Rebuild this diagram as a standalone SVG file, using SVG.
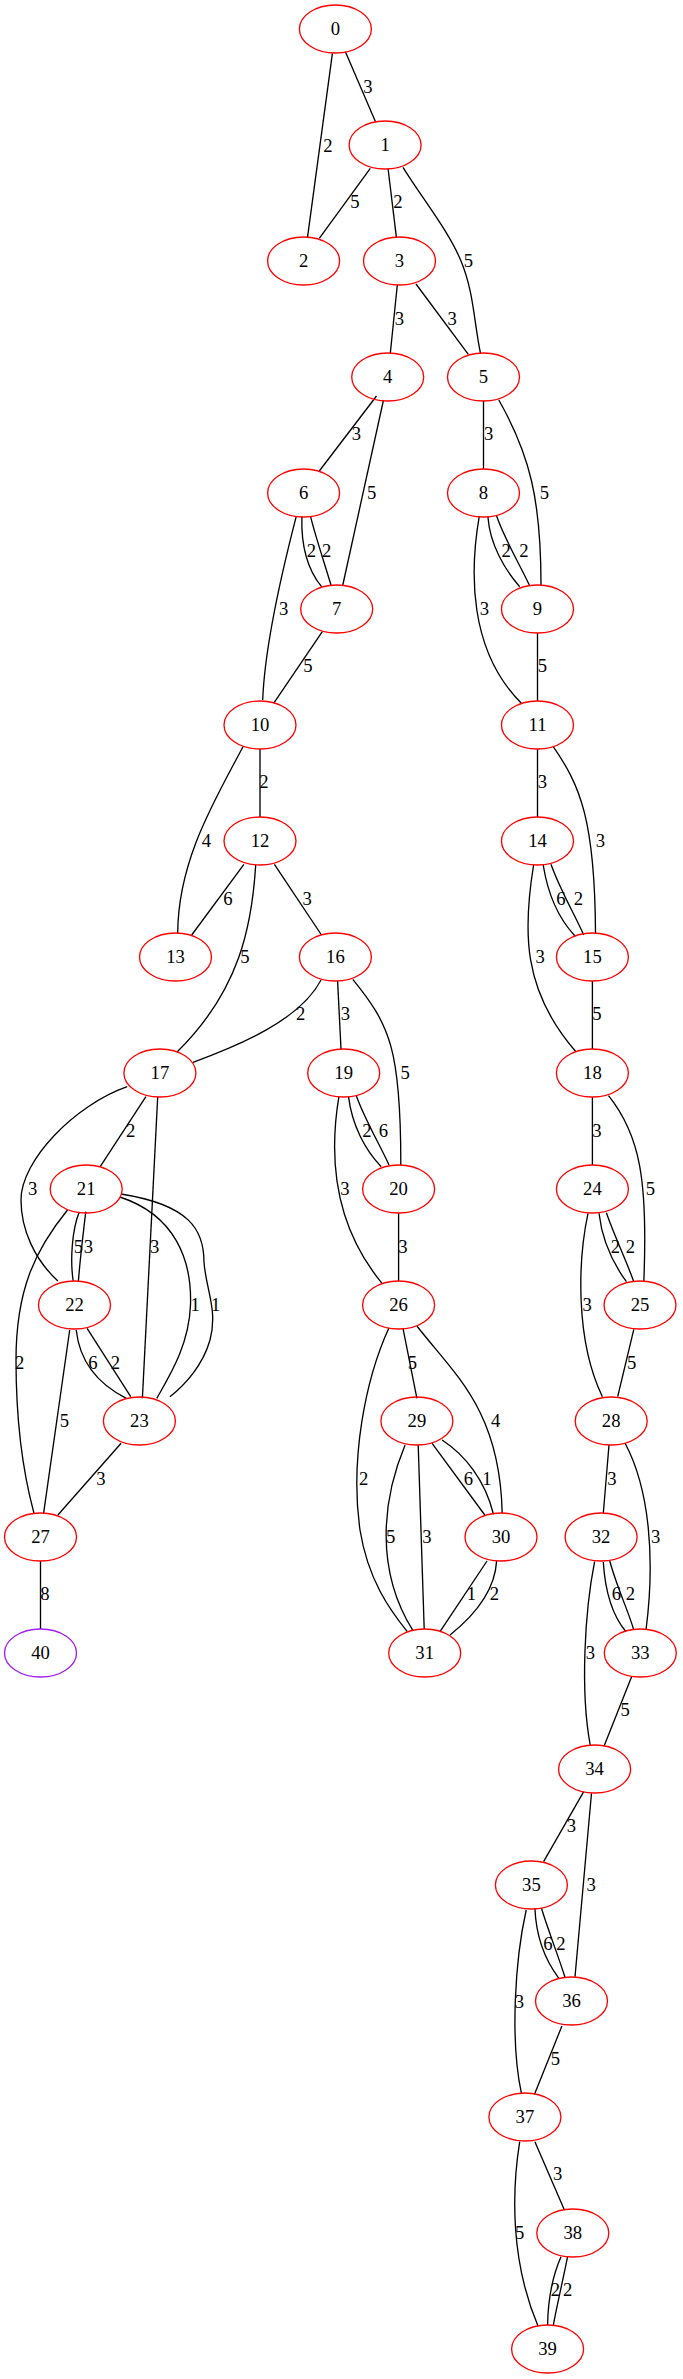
<svg xmlns="http://www.w3.org/2000/svg" width="683" height="2379" viewBox="0 0 683 2379">
<style>
.n ellipse{fill:none;stroke:#ff0000;stroke-width:1.33}
.n.p ellipse{stroke:#a020f0}
text{font-family:"Liberation Serif","Times New Roman",serif;font-size:18.67px;fill:#000;text-anchor:middle}
#edges path{fill:none;stroke:#000;stroke-width:1.33}
</style>
<rect width="683" height="2379" fill="#fff"/>
<g id="edges">
<path d="M345.4,51.7 L375.5,121.7"/>
<path d="M332.4,53.3 L307.5,237.3"/>
<path d="M370.3,168.3 L319.3,238.3"/>
<path d="M388.1,169 L396.4,237.3"/>
<path d="M403,167.3 C422.3,198.5 448.1,230 461,261 C473.9,292 474,322.5 480.5,353.3"/>
<path d="M397.3,285 L390.3,353.3"/>
<path d="M416,284 L468.3,354.3"/>
<path d="M376.5,396 L319.3,471"/>
<path d="M383.5,400 L342.8,585"/>
<path d="M483.5,400.7 L483.5,469"/>
<path d="M498.8,400 C530,455 541,500 541,585"/>
<path d="M301.9,516.7 C301,545 308,570 321.5,586.7"/>
<path d="M310.6,516.7 C315,535 325,565 331,585"/>
<path d="M296.2,516.7 C285,560 265,640 262.7,700"/>
<path d="M322.3,631.7 L273.6,703.3"/>
<path d="M487.9,516.7 C490,545 505,570 519.7,586.7"/>
<path d="M496.6,516 C505,540 520,565 529.3,585"/>
<path d="M479.2,516.7 C470,570 468,650 521.4,703.3"/>
<path d="M537.5,633 L537.5,701"/>
<path d="M260,749 L260,817"/>
<path d="M243,746.7 C215,800 178,860 177.7,933.3"/>
<path d="M537.5,749 L537.5,817"/>
<path d="M553.2,746.7 C580,785 595,820 595.5,933.3"/>
<path d="M243.9,864.3 L191.7,935"/>
<path d="M274.4,864.3 L321.5,935"/>
<path d="M255.7,865 C252,925 240,990 177.3,1051.7"/>
<path d="M543.2,865 C548,895 560,920 575,936"/>
<path d="M551,864.3 C560,890 575,915 583.7,935"/>
<path d="M533.6,865 C523,930 522,990 575.9,1051.7"/>
<path d="M592.4,981 L592.4,1049"/>
<path d="M321,980 C300,1020 240,1045 193,1062.3"/>
<path d="M337.6,981 L341,1049.3"/>
<path d="M352.8,979.3 C390,1025 401,1050 400.8,1165"/>
<path d="M145.9,1096.7 L100.2,1166.7"/>
<path d="M127.2,1086.7 C75,1105 21,1160 21,1200 C21,1230 35,1260 57.9,1281"/>
<path d="M157.7,1096.7 L142.4,1398.3"/>
<path d="M348.5,1096.7 C352,1125 365,1150 381.2,1166.7"/>
<path d="M356.3,1095.7 C365,1120 380,1145 389,1165"/>
<path d="M338.9,1096.7 C330,1150 330,1220 382,1283.3"/>
<path d="M592.4,1097 L592.4,1165"/>
<path d="M608.5,1095.7 C640,1135 648,1180 643.8,1281.7"/>
<path d="M398.6,1213 L398.6,1281"/>
<path d="M79.3,1211.7 C72,1230 70,1260 73.2,1281"/>
<path d="M85.8,1211.7 C83,1235 80,1260 78.4,1281"/>
<path d="M119.8,1197 C175,1215 192,1260 190.5,1305 C189,1345 170,1375 156.8,1398.3"/>
<path d="M121,1194 C190,1205 204,1230 204,1262 C206,1290 218,1310 210,1340 C203,1365 185,1385 169.9,1396.7"/>
<path d="M67.5,1210 C35,1250 16,1290 16,1360 C16,1430 25,1480 34,1513.3"/>
<path d="M599,1213.3 C602,1240 612,1262 626.4,1281.7"/>
<path d="M606.4,1212.7 C614,1235 626,1260 633.8,1281.7"/>
<path d="M588,1213.3 C578,1260 575,1340 602.4,1396.7"/>
<path d="M76.2,1330 C80,1365 100,1385 126.3,1398.3"/>
<path d="M87.1,1328.3 L130.7,1396.7"/>
<path d="M69.7,1330 L43.6,1513.3"/>
<path d="M403,1328.3 L416.9,1398.3"/>
<path d="M389,1327.7 C365,1380 350,1460 360,1530 C368,1580 390,1610 407.3,1631.7"/>
<path d="M416.9,1326 C455,1375 500,1410 502.2,1513.3"/>
<path d="M633.8,1329.3 L617.7,1396.7"/>
<path d="M121.1,1443.3 L57.9,1515"/>
<path d="M40.5,1561 L40.5,1629"/>
<path d="M432.1,1443.3 L484.8,1515"/>
<path d="M442.1,1440 C465,1455 485,1480 493.5,1514.3"/>
<path d="M405.1,1445 C382,1500 375,1570 413,1630.7"/>
<path d="M418.2,1444.7 L424.2,1629"/>
<path d="M609,1445 L603.3,1513.3"/>
<path d="M625.1,1443.3 C650,1490 655,1560 646,1630"/>
<path d="M487,1561 L440,1631.7"/>
<path d="M496.6,1561 C495,1590 475,1615 450,1635"/>
<path d="M603.3,1561.7 C605,1590 612,1615 626,1631.7"/>
<path d="M609.8,1561 C616,1585 628,1610 633.8,1630"/>
<path d="M594.6,1561.7 C585,1610 580,1690 590.2,1745"/>
<path d="M631.6,1676.7 L604.2,1745.7"/>
<path d="M583.7,1791.7 L543.6,1861.7"/>
<path d="M591.5,1793.3 L575,1976.7"/>
<path d="M534.9,1908.3 C536,1935 545,1960 558.9,1978.3"/>
<path d="M541.5,1908.3 C548,1930 558,1955 565,1977.3"/>
<path d="M526.2,1910 C515,1960 510,2040 521.4,2093.3"/>
<path d="M561.9,2026 L534.5,2094.3"/>
<path d="M534.9,2141.7 L564.1,2209.3"/>
<path d="M519.7,2141.7 C512,2190 510,2260 538,2326"/>
<path d="M561,2256.7 C553,2275 548,2300 547.6,2325"/>
<path d="M567.6,2256.7 C563,2280 557,2305 553.2,2326"/>
</g>
<g id="edge-labels">
<text x="368" y="93">3</text>
<text x="328" y="152">2</text>
<text x="355" y="208">5</text>
<text x="398" y="208">2</text>
<text x="468.3" y="267">5</text>
<text x="399.5" y="324.5">3</text>
<text x="452.2" y="324.5">3</text>
<text x="356.3" y="439.5">3</text>
<text x="371.6" y="498.5">5</text>
<text x="488.7" y="439.5">3</text>
<text x="544.5" y="498.5">5</text>
<text x="311.5" y="557">2</text>
<text x="326.7" y="557">2</text>
<text x="283.6" y="615">3</text>
<text x="506.2" y="557">2</text>
<text x="524" y="557">2</text>
<text x="484.4" y="615">3</text>
<text x="308" y="672">5</text>
<text x="542.3" y="672">5</text>
<text x="264" y="788">2</text>
<text x="206.5" y="847">4</text>
<text x="542.3" y="788">3</text>
<text x="600.3" y="847">3</text>
<text x="227.8" y="905">6</text>
<text x="307.1" y="905">3</text>
<text x="244.8" y="963">5</text>
<text x="561" y="905">6</text>
<text x="578.5" y="905">2</text>
<text x="540.1" y="963">3</text>
<text x="596.8" y="1020">5</text>
<text x="300.6" y="1020">2</text>
<text x="345.4" y="1020">3</text>
<text x="405.1" y="1078.5">5</text>
<text x="130.7" y="1137">2</text>
<text x="32.7" y="1194.5">3</text>
<text x="154.6" y="1253">3</text>
<text x="366.8" y="1137">2</text>
<text x="383.3" y="1137">6</text>
<text x="345" y="1194.5">3</text>
<text x="596.8" y="1137">3</text>
<text x="650.4" y="1194.5">5</text>
<text x="403" y="1253">3</text>
<text x="78.4" y="1253">5</text>
<text x="88.4" y="1253">3</text>
<text x="195.2" y="1311">1</text>
<text x="215.6" y="1311">1</text>
<text x="19.6" y="1369">2</text>
<text x="615.5" y="1253">2</text>
<text x="630.3" y="1253">2</text>
<text x="587.2" y="1311">3</text>
<text x="92.8" y="1369">6</text>
<text x="115.4" y="1369">2</text>
<text x="64.5" y="1427">5</text>
<text x="412.5" y="1369">5</text>
<text x="363.7" y="1485">2</text>
<text x="495.7" y="1427">4</text>
<text x="631.6" y="1369">5</text>
<text x="101" y="1485">3</text>
<text x="44.9" y="1599.5">8</text>
<text x="468.3" y="1485">6</text>
<text x="487" y="1485">1</text>
<text x="390.7" y="1543">5</text>
<text x="426.9" y="1543">3</text>
<text x="612" y="1485">3</text>
<text x="655.6" y="1543">3</text>
<text x="471.3" y="1599.5">1</text>
<text x="494.4" y="1599.5">2</text>
<text x="616.4" y="1599.5">6</text>
<text x="630.3" y="1599.5">2</text>
<text x="590.5" y="1659">3</text>
<text x="625.1" y="1716">5</text>
<text x="571.5" y="1832">3</text>
<text x="591.1" y="1891">3</text>
<text x="548" y="1949.5">6</text>
<text x="561" y="1949.5">2</text>
<text x="519.5" y="2008">3</text>
<text x="555.4" y="2064.5">5</text>
<text x="557.6" y="2180">3</text>
<text x="519.7" y="2239">5</text>
<text x="555.4" y="2296">2</text>
<text x="567.6" y="2296">2</text>
</g>
<g id="node0" class="n"><ellipse cx="335.4" cy="29" rx="36" ry="24"/><text x="335.4" y="35">0</text></g>
<g id="node1" class="n"><ellipse cx="385.1" cy="145" rx="36" ry="24"/><text x="385.1" y="151">1</text></g>
<g id="node2" class="n"><ellipse cx="303.6" cy="261" rx="36" ry="24"/><text x="303.6" y="267">2</text></g>
<g id="node3" class="n"><ellipse cx="399.5" cy="261" rx="36" ry="24"/><text x="399.5" y="267">3</text></g>
<g id="node4" class="n"><ellipse cx="387.7" cy="377" rx="36" ry="24"/><text x="387.7" y="383">4</text></g>
<g id="node5" class="n"><ellipse cx="483.5" cy="377" rx="36" ry="24"/><text x="483.5" y="383">5</text></g>
<g id="node6" class="n"><ellipse cx="303.6" cy="493" rx="36" ry="24"/><text x="303.6" y="499">6</text></g>
<g id="node8" class="n"><ellipse cx="483.5" cy="493" rx="36" ry="24"/><text x="483.5" y="499">8</text></g>
<g id="node7" class="n"><ellipse cx="336.7" cy="609" rx="36" ry="24"/><text x="336.7" y="615">7</text></g>
<g id="node9" class="n"><ellipse cx="537.5" cy="609" rx="36" ry="24"/><text x="537.5" y="615">9</text></g>
<g id="node10" class="n"><ellipse cx="260" cy="725" rx="36" ry="24"/><text x="260" y="731">10</text></g>
<g id="node11" class="n"><ellipse cx="537.5" cy="725" rx="36" ry="24"/><text x="537.5" y="731">11</text></g>
<g id="node12" class="n"><ellipse cx="260" cy="841" rx="36" ry="24"/><text x="260" y="847">12</text></g>
<g id="node14" class="n"><ellipse cx="537.5" cy="841" rx="36" ry="24"/><text x="537.5" y="847">14</text></g>
<g id="node13" class="n"><ellipse cx="175.5" cy="957" rx="36" ry="24"/><text x="175.5" y="963">13</text></g>
<g id="node16" class="n"><ellipse cx="335.4" cy="957" rx="36" ry="24"/><text x="335.4" y="963">16</text></g>
<g id="node15" class="n"><ellipse cx="592.4" cy="957" rx="36" ry="24"/><text x="592.4" y="963">15</text></g>
<g id="node17" class="n"><ellipse cx="159.9" cy="1073" rx="36" ry="24"/><text x="159.9" y="1079">17</text></g>
<g id="node19" class="n"><ellipse cx="343.7" cy="1073" rx="36" ry="24"/><text x="343.7" y="1079">19</text></g>
<g id="node18" class="n"><ellipse cx="592.4" cy="1073" rx="36" ry="24"/><text x="592.4" y="1079">18</text></g>
<g id="node21" class="n"><ellipse cx="86.2" cy="1189" rx="36" ry="24"/><text x="86.2" y="1195">21</text></g>
<g id="node20" class="n"><ellipse cx="398.6" cy="1189" rx="36" ry="24"/><text x="398.6" y="1195">20</text></g>
<g id="node24" class="n"><ellipse cx="592.4" cy="1189" rx="36" ry="24"/><text x="592.4" y="1195">24</text></g>
<g id="node22" class="n"><ellipse cx="74.5" cy="1305" rx="36" ry="24"/><text x="74.5" y="1311">22</text></g>
<g id="node26" class="n"><ellipse cx="398.6" cy="1305" rx="36" ry="24"/><text x="398.6" y="1311">26</text></g>
<g id="node25" class="n"><ellipse cx="640" cy="1305" rx="36" ry="24"/><text x="640" y="1311">25</text></g>
<g id="node23" class="n"><ellipse cx="139.4" cy="1421" rx="36" ry="24"/><text x="139.4" y="1427">23</text></g>
<g id="node29" class="n"><ellipse cx="416.9" cy="1421" rx="36" ry="24"/><text x="416.9" y="1427">29</text></g>
<g id="node28" class="n"><ellipse cx="611.2" cy="1421" rx="36" ry="24"/><text x="611.2" y="1427">28</text></g>
<g id="node27" class="n"><ellipse cx="40.5" cy="1537" rx="36" ry="24"/><text x="40.5" y="1543">27</text></g>
<g id="node30" class="n"><ellipse cx="501" cy="1537" rx="36" ry="24"/><text x="501" y="1543">30</text></g>
<g id="node32" class="n"><ellipse cx="601.1" cy="1537" rx="36" ry="24"/><text x="601.1" y="1543">32</text></g>
<g id="node40" class="n p"><ellipse cx="40.5" cy="1653" rx="36" ry="24"/><text x="40.5" y="1659">40</text></g>
<g id="node31" class="n"><ellipse cx="424.7" cy="1653" rx="36" ry="24"/><text x="424.7" y="1659">31</text></g>
<g id="node33" class="n"><ellipse cx="640.3" cy="1653" rx="36" ry="24"/><text x="640.3" y="1659">33</text></g>
<g id="node34" class="n"><ellipse cx="594.6" cy="1769" rx="36" ry="24"/><text x="594.6" y="1775">34</text></g>
<g id="node35" class="n"><ellipse cx="531.4" cy="1885" rx="36" ry="24"/><text x="531.4" y="1891">35</text></g>
<g id="node36" class="n"><ellipse cx="571.5" cy="2001" rx="36" ry="24"/><text x="571.5" y="2007">36</text></g>
<g id="node37" class="n"><ellipse cx="524.9" cy="2117" rx="36" ry="24"/><text x="524.9" y="2123">37</text></g>
<g id="node38" class="n"><ellipse cx="572.8" cy="2233" rx="36" ry="24"/><text x="572.8" y="2239">38</text></g>
<g id="node39" class="n"><ellipse cx="547.6" cy="2349" rx="36" ry="24"/><text x="547.6" y="2355">39</text></g>
</svg>
